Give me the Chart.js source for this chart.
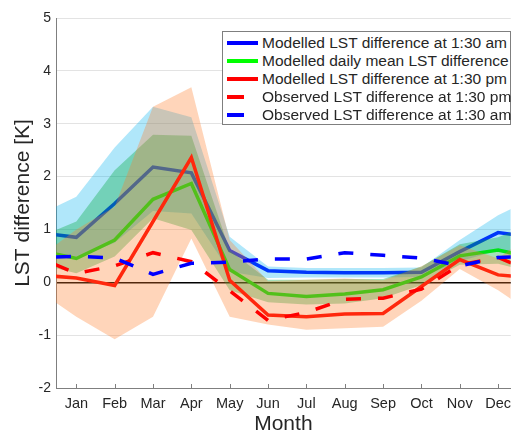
<!DOCTYPE html>
<html>
<head>
<meta charset="utf-8">
<script src="https://cdn.jsdelivr.net/npm/chart.js@4.4.0/dist/chart.umd.min.js"></script>
<style>
  html, body { margin: 0; padding: 0; background: #fff; overflow: hidden; }
  #wrap { position: relative; width: 518px; height: 432px; }
  #legend {
    position: absolute; left: 222px; top: 31px; width: 289px; height: 94px;
    box-sizing: border-box; border: 1px solid #7f7f7f; background: #fff;
    font-family: "Liberation Sans", Arial, sans-serif; font-size: 15.5px; color: #262626;
  }
  .row { position: absolute; left: 0; right: 0; height: 18px; line-height: 18px; white-space: nowrap; }
  .swatch { position: absolute; left: 4px; top: 7px; height: 3.5px; }
  .label { position: absolute; left: 39px; top: 0; }
</style>
</head>
<body>
<div id="wrap">
  <canvas id="grafik" width="518" height="432"></canvas>
  <div id="legend"></div>
</div>
<script>
const months = ["Jan", "Feb", "Mar", "Apr", "May", "Jun", "Jul", "Aug", "Sep", "Oct", "Nov", "Dec"];

// modelled lines
const modAm   = [0.85, 1.49, 2.18, 2.07, 0.60, 0.22, 0.19, 0.18, 0.18, 0.19, 0.58, 0.94];
const modMean = [0.45, 0.80, 1.57, 1.87, 0.24, -0.21, -0.27, -0.22, -0.14, 0.10, 0.50, 0.61];
const modPm   = [0.08, -0.06, 1.15, 2.36, 0.04, -0.62, -0.65, -0.60, -0.59, -0.08, 0.43, 0.14];

// observed lines
const obsPm = [0.17, 0.31, 0.56, 0.39, -0.16, -0.72, -0.57, -0.32, -0.30, -0.13, 0.33, 0.47];
const obsAm = [0.49, 0.46, 0.15, 0.36, 0.38, 0.44, 0.44, 0.56, 0.51, 0.46, 0.31, 0.47];

// ranges (upper / lower)
const amHi   = [1.62, 2.55, 3.32, 3.12, 0.86, 0.30, 0.27, 0.27, 0.27, 0.28, 0.80, 1.27];
const amLo   = [0.45, 0.75, 1.35, 1.30, 0.20, 0.08, 0.09, 0.09, 0.09, 0.10, 0.40, 0.60];
const meanHi = [1.15, 2.12, 2.79, 2.77, 0.60, 0.05, 0.05, 0.06, 0.06, 0.30, 0.72, 0.85];
const meanLo = [0.17, 0.49, 1.21, 0.99, -0.15, -0.38, -0.42, -0.40, -0.30, -0.05, 0.33, 0.35];
const pmHi   = [1.00, 1.43, 3.32, 3.69, 0.80, 0.02, 0.05, 0.07, 0.04, 0.30, 0.70, 0.45];
const pmLo   = [-0.65, -1.08, -0.65, 0.83, -0.65, -0.80, -0.90, -0.87, -0.84, -0.35, 0.25, -0.15];

const legendNames = [
  "Modelled LST difference at 1:30 am",
  "Modelled daily mean LST difference",
  "Modelled LST difference at 1:30 pm",
  "Observed LST difference at 1:30 pm",
  "Observed LST difference at 1:30 am"
];
const legendColors = ["#0000ff", "#00ff00", "#ff0000", "#ff0000", "#0000ff"];
const legendDashed = [false, false, false, true, true];

// the year wraps round: Dec before Jan, Jan after Dec
function pts(vals) {
  const p = vals.map((v, i) => ({ x: i + 1, y: v }));
  return [{ x: 0, y: vals[11] }].concat(p, [{ x: 13, y: vals[0] }]);
}

function line(label, vals, color, order, dashed) {
  return {
    label: label, data: pts(vals), borderColor: color, borderWidth: 3.5,
    borderDash: dashed ? [15, 17] : [], borderDashOffset: 14,
    pointRadius: 0, fill: false, order: order, tension: 0
  };
}
function edge(vals, order, target, bg) {
  return {
    data: pts(vals), borderColor: "rgba(0,0,0,0)", borderWidth: 0, pointRadius: 0,
    fill: target === null ? false : { target: target }, backgroundColor: bg, order: order, tension: 0
  };
}

const datasets = [
  line(legendNames[4], obsAm, "#0000ff", 1, true),      // 0
  line(legendNames[3], obsPm, "#ff0000", 2, true),      // 1
  edge(pmLo, 3, null),                                   // 2
  edge(pmHi, 3, 2, "rgba(255,125,40,0.32)"),             // 3
  line(legendNames[2], modPm, "#ff0000", 4, false),     // 4
  edge(meanLo, 5, null),                                 // 5
  edge(meanHi, 5, 5, "rgba(0,170,60,0.35)"),             // 6
  line(legendNames[1], modMean, "#00ff00", 6, false),   // 7
  edge(amLo, 7, null),                                   // 8
  edge(amHi, 7, 8, "rgba(0,176,240,0.31)"),              // 9
  line(legendNames[0], modAm, "#0000ff", 8, false)      // 10
];

const innerTicks = {
  id: "innerTicks",
  afterDraw(chart) {
    const { ctx, scales: { x }, chartArea } = chart;
    ctx.save();
    ctx.strokeStyle = "#7f7f7f";
    ctx.lineWidth = 1;
    x.ticks.forEach(t => {
      const px = Math.round(x.getPixelForValue(t.value)) + 0.5;
      ctx.beginPath();
      ctx.moveTo(px, chartArea.bottom);
      ctx.lineTo(px, chartArea.bottom - 4);
      ctx.stroke();
    });
    ctx.restore();
  }
};

Chart.defaults.font.family = '"Liberation Sans", Arial, sans-serif';
Chart.defaults.color = "#262626";

new Chart(document.getElementById("grafik"), {
  type: "line",
  data: { datasets: datasets },
  options: {
    responsive: false,
    animation: false,
    layout: { padding: { top: 18, left: 0, right: 0, bottom: 0 } },
    plugins: { legend: { display: false }, tooltip: { enabled: false } },
    scales: {
      x: {
        type: "linear", min: 0.47, max: 12.33,
        afterFit: s => { s.height = 44; },
        ticks: {
          stepSize: 1, includeBounds: false, padding: 7, color: "#262626",
          font: { size: 14.5 }, maxRotation: 0, autoSkip: false,
          callback: v => months[v - 1] || ""
        },
        grid: { drawOnChartArea: false, drawTicks: false },
        border: { color: "#7f7f7f", width: 1 },
        title: { display: true, text: "Month", font: { size: 21, lineHeight: 1 }, padding: { top: 0, bottom: -3 }, color: "#262626" }
      },
      y: {
        min: -2, max: 5,
        afterFit: s => { s.width = 56; },
        ticks: { stepSize: 1, padding: 5, color: "#262626", font: { size: 14 } },
        grid: {
          drawTicks: false,
          color: c => c.tick && c.tick.value === 0 ? "#000000" : "#e3e3e3",
          lineWidth: c => c.tick && c.tick.value === 0 ? 1.5 : 1
        },
        border: { color: "#7f7f7f", width: 1 },
        title: { display: true, text: "LST difference [K]", font: { size: 21, lineHeight: 1 }, padding: { top: 12.5, bottom: 0 }, color: "#262626" }
      }
    }
  },
  plugins: [innerTicks]
});

const legend = document.getElementById("legend");
legendNames.forEach((name, i) => {
  const row = document.createElement("div");
  row.className = "row";
  row.style.top = (2 + 18 * i) + "px";
  const sw = document.createElement("div");
  sw.className = "swatch";
  sw.style.width = legendDashed[i] ? "17px" : "31px";
  sw.style.background = legendColors[i];
  const lab = document.createElement("span");
  lab.className = "label";
  lab.textContent = name;
  row.appendChild(sw);
  row.appendChild(lab);
  legend.appendChild(row);
});
</script>
</body>
</html>
